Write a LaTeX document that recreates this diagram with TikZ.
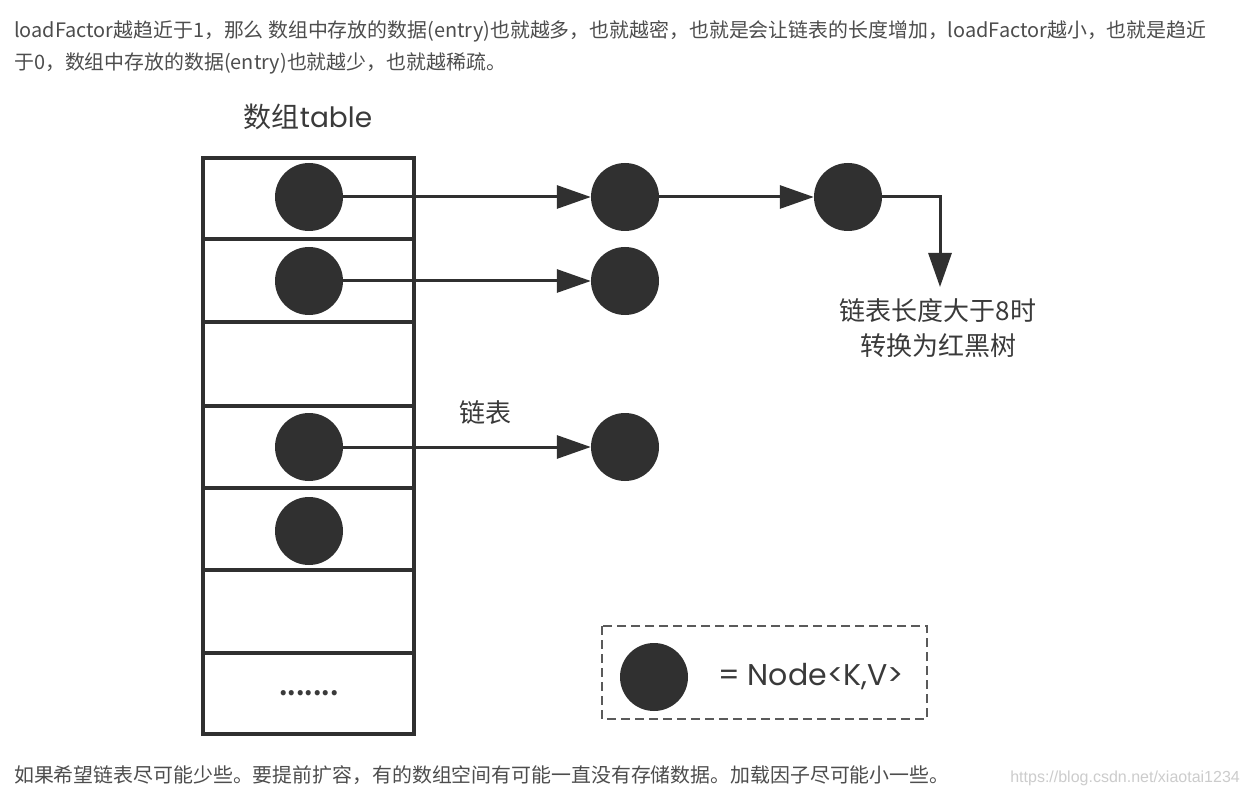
\documentclass[tikz,border=0pt]{standalone}
\usepackage{fontspec}
\usetikzlibrary{arrows.meta}
\newfontfamily\cjk{Noto Sans CJK SC}
\newfontfamily\geo{Poppins}
\newfontfamily\wm{Liberation Sans}
\definecolor{dk}{HTML}{303030}
\definecolor{txt}{HTML}{4D4D4D}
\definecolor{lbl}{HTML}{3A3A3A}
\begin{document}
\begin{tikzpicture}[x=1pt,y=-1pt,
  dot/.style={circle,fill=dk,minimum size=68pt,inner sep=0pt},
  arr/.style={draw=dk,line width=3pt,-{Triangle[length=34pt,width=23pt]}},
  tbl/.style={draw=dk,line width=4pt},
  para/.style={anchor=base west,inner sep=0pt,text=txt,font=\cjk\fontsize{19.9}{24}\selectfont},
  lab/.style={inner sep=0pt,text=lbl,font=\cjk\fontsize{26}{35}\selectfont}]
\fill[white] (0,0) rectangle (1250,794);
\useasboundingbox (0,0) rectangle (1250,794);
% paragraph text
\node[para] (p1) at (14,38) {loadFactor越趋近于1，那么 数组中存放的数据(entry)也就越多，也就越密，也就是会让链表的长度增加，loadFactor越小，也就是趋近};
\node[para] (p2) at (14,70) {于0，数组中存放的数据(entry)也就越少，也就越稀疏。};
\node[para] (p3) at (14,782) {如果希望链表尽可能少些。要提前扩容，有的数组空间有可能一直没有存储数据。加载因子尽可能小一些。};
\node[anchor=base east,inner sep=0pt,text=black!20,font=\wm\fontsize{16}{18}\selectfont] (w) at (1240,782) {https://blog.csdn.net/xiaotai1234};
% table
\node[lab,font=\cjk\fontsize{28}{34}\selectfont] (title) at (308,117) {数组{\geo table}};
\draw[tbl] (203,158) rectangle (414,734);
\foreach \y in {239,322,406,488,570,653} \draw[tbl] (203,\y) -- (414,\y);
\node[lab,font=\cjk\bfseries\fontsize{24}{28}\selectfont] (dots) at (309,693) {.......};
% nodes
\node[dot] (t1) at (309,197) {};
\node[dot] (t2) at (309,281) {};
\node[dot] (t4) at (309,447) {};
\node[dot] (t5) at (309,531) {};
\node[dot] (n1) at (625,197) {};
\node[dot] (n2) at (625,281) {};
\node[dot] (n3) at (848,197) {};
\node[dot] (n4) at (625,447) {};
\coordinate (c1) at (940,287);
\draw[arr] (t1.east) -- (n1.west);
\draw[arr] (n1.east) -- (n3.west);
\draw[arr] (n3.east) -| (c1);
\draw[arr] (t2.east) -- (n2.west);
\draw[arr] (t4.east) -- (n4.west);
\node[lab,align=center] (rb) at (938,328) {链表长度大于8时\\转换为红黑树};
\node[lab] (ll) at (485,413) {链表};
% legend
\draw[dk!80,line width=2pt,dash pattern=on 9pt off 5pt] (602,626) rectangle (927,719);
\node[dot] (lg) at (654,677) {};
\node[lab,anchor=west,font=\geo\fontsize{30}{34}\selectfont] (lt) at (718,677) {= Node<K,V>};
\end{tikzpicture}
\end{document}
